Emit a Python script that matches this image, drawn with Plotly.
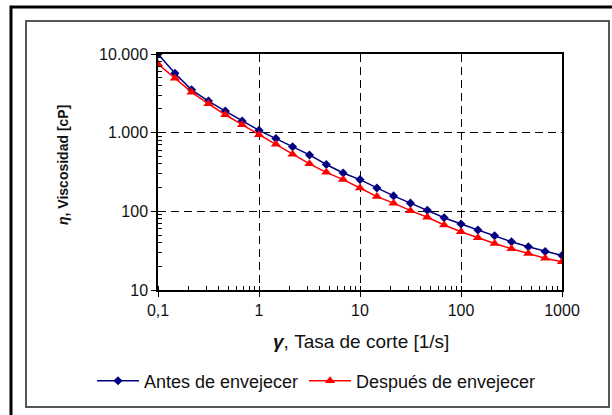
import plotly.graph_objects as go

# Shear rate [1/s] (6 log-spaced points per decade)
shear_rate = [0.1, 0.147, 0.215, 0.316, 0.464, 0.681,
              1, 1.47, 2.15, 3.16, 4.64, 6.81,
              10, 14.7, 21.5, 31.6, 46.4, 68.1,
              100, 147, 215, 316, 464, 681, 1000]

visc_antes = [10000, 5690, 3500, 2520, 1880, 1405,
              1070, 841, 662, 521, 394, 307,
              253, 198, 157, 127, 103, 83,
              69, 58, 49, 41, 35.4, 30.8, 27.4]

visc_despues = [7470, 4920, 3270, 2330, 1690, 1262,
                944, 714, 531, 402, 313, 253,
                198, 154, 127, 102, 84, 67,
                55, 46, 39, 33.4, 29.1, 25.3, 22.9]

x_tickvals = [0.1, 1, 10, 100, 1000]
x_ticktext = ["0,1", "1", "10", "100", "1000"]
y_tickvals = [10, 100, 1000, 10000]
y_ticktext = ["10", "100", "1.000", "10.000"]

FONT = "Liberation Sans, Arial, sans-serif"
W, H = 612, 415
L, R, T, B = 158, 50, 54, 125
PW, PH = W - L - R, H - T - B

def px(x):
    return (x - L) / PW

def py(y):
    return (H - B - y) / PH

fig = go.Figure()
fig.add_trace(go.Scatter(
    x=shear_rate, y=visc_antes, mode="lines+markers",
    name="Antes de envejecer", legend="legend",
    line=dict(color="#000080", width=1.5),
    marker=dict(symbol="diamond", size=7, color="#000080"),
))
fig.add_trace(go.Scatter(
    x=shear_rate, y=visc_despues, mode="lines+markers",
    name="Después de envejecer", legend="legend2",
    line=dict(color="#FF0000", width=1.5),
    marker=dict(symbol="triangle-up", size=9, color="#FF0000"),
))

axis_common = dict(
    type="log",
    showline=True, linecolor="black", linewidth=1.5, mirror=True,
    showgrid=True, gridcolor="black", gridwidth=1.2, griddash="8px,5px",
    ticks="outside", ticklen=5, tickcolor="black", tickwidth=1,
    tickfont=dict(family=FONT, size=16, color="#111111"),
    zeroline=False,
    minor=dict(ticks="inside", ticklen=4, tickcolor="black", tickwidth=1,
               showgrid=False, dtick="D1"),
)

fig.update_xaxes(range=[-1, 3], tickvals=x_tickvals, ticktext=x_ticktext, **axis_common)
fig.update_yaxes(range=[1, 4], tickvals=y_tickvals, ticktext=y_ticktext, **axis_common)

legend_common = dict(
    orientation="h", xref="container", yref="container",
    y=1 - 381 / H, xanchor="left", yanchor="middle",
    font=dict(family=FONT, size=18, color="#111111"),
    bgcolor="rgba(0,0,0,0)", itemwidth=42,
)

fig.update_layout(
    width=W, height=H,
    margin=dict(l=L, r=R, t=T, b=B, autoexpand=False),
    paper_bgcolor="white", plot_bgcolor="white",
    font=dict(family=FONT, color="#111111"),
    showlegend=True,
    legend=dict(x=92 / W, **legend_common),
    legend2=dict(x=304 / W, **legend_common),
    annotations=[
        dict(text="<b><i>γ</i></b>, Tasa de corte [1/s]", xref="paper", yref="paper",
             x=px(361), y=py(341), xanchor="center", yanchor="middle",
             showarrow=False, font=dict(family=FONT, size=19, color="#111111")),
        dict(text="<b><i>η</i>, Viscosidad [cP]</b>", xref="paper", yref="paper",
             x=px(63), y=py(165), xanchor="center", yanchor="middle", textangle=-90,
             showarrow=False, font=dict(family=FONT, size=14, color="#111111")),
    ],
    shapes=[
        # outer black frame (extends past the right/bottom edges)
        dict(type="rect", xref="paper", yref="paper",
             x0=px(11), x1=px(640), y0=py(440), y1=py(7),
             line=dict(color="black", width=3), layer="below"),
        # inner gray frame
        dict(type="rect", xref="paper", yref="paper",
             x0=px(26), x1=px(609), y0=py(407), y1=py(21),
             line=dict(color="#555555", width=2), layer="below"),
    ],
)

fig.write_html("out.html")
